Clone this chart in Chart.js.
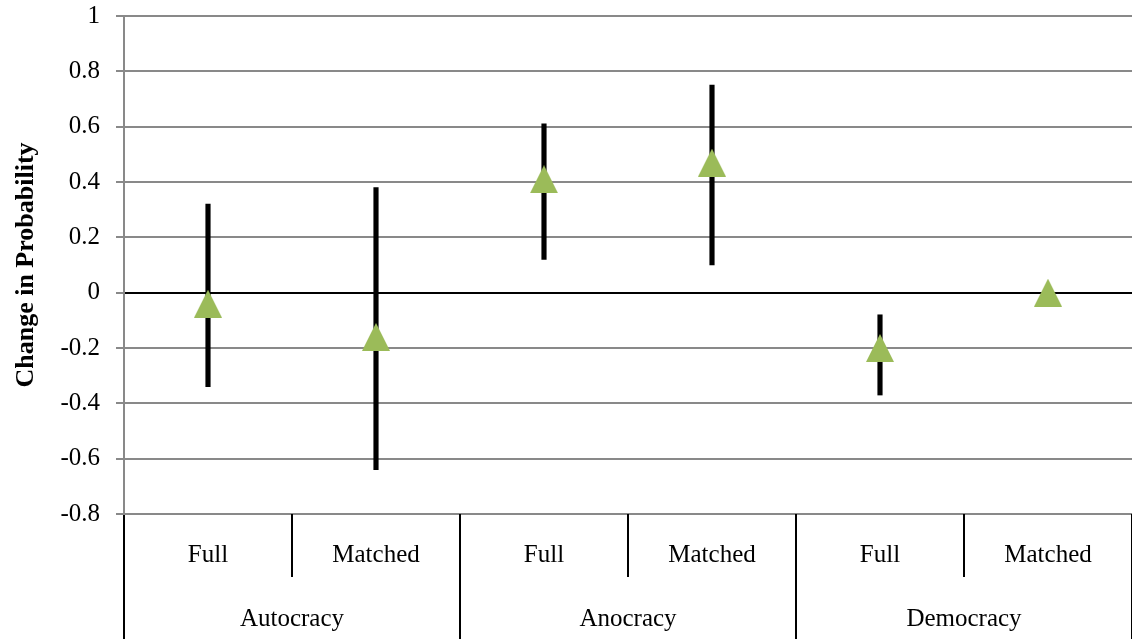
<!DOCTYPE html>
<html>
<head>
<meta charset="utf-8">
<script src="https://cdn.jsdelivr.net/npm/chart.js@4"></script>
<style>
  html, body { margin: 0; background: #fff; overflow: hidden; }
  #wrap { width: 1132px; height: 639px; }
</style>
</head>
<body>
<div id="wrap"><canvas id="probChart"></canvas></div>
<script>
const sampleLabels = ["Full", "Matched", "Full", "Matched", "Full", "Matched"];
const regimeLabels = ["Autocracy", "Anocracy", "Democracy"];
const estimates = [-0.04, -0.16, 0.41, 0.47, -0.20, 0.00];
const lowerBounds = [-0.34, -0.64, 0.12, 0.10, -0.37, null];
const upperBounds = [0.32, 0.38, 0.61, 0.75, -0.08, null];
const yTicks = { min: -0.8, max: 1, step: 0.2 };

// green triangle marker, like the excel one (square box, not equilateral)
const marker = document.createElement("canvas");
marker.width = 28;
marker.height = 28;
const mctx = marker.getContext("2d");
mctx.fillStyle = "#9BBB59";
mctx.beginPath();
mctx.moveTo(0, 28);
mctx.lineTo(14, 0);
mctx.lineTo(28, 28);
mctx.closePath();
mctx.fill();

const intervals = lowerBounds.map((lo, i) => lo === null ? null : [lo, upperBounds[i]]);

const serif = "'Liberation Serif', 'Times New Roman', serif";
const gray = "#898989";

// axes keep no extra room for half labels
function noPadding(s) {
    s.paddingTop = 0;
    s.paddingBottom = 0;
    s.paddingLeft = 0;
    s.paddingRight = 0;
}

new Chart(document.getElementById("probChart"), {
    type: "bar",
    data: {
        labels: sampleLabels,
        datasets: [
            {
                type: "line",
                data: estimates,
                showLine: false,
                pointStyle: marker,
                pointRadius: 14,
                order: 0
            },
            {
                type: "bar",
                data: intervals,
                backgroundColor: "#000",
                borderWidth: 0,
                barThickness: 4.5,
                order: 1
            }
        ]
    },
    options: {
        responsive: true,
        maintainAspectRatio: false,
        animation: false,
        layout: {
            autoPadding: false, // big markers would otherwise shrink the plot
            padding: { top: 16, right: 0, bottom: 0, left: 0 }
        },
        plugins: {
            legend: { display: false },
            tooltip: { enabled: false }
        },
        scales: {
            y: {
                min: yTicks.min,
                max: yTicks.max,
                afterFit: s => { s.width = 124; noPadding(s); },
                ticks: {
                    stepSize: yTicks.step,
                    padding: 16,
                    color: "#000",
                    font: { family: serif, size: 25 },
                    callback: v => String(Math.round(v * 10) / 10)
                },
                grid: {
                    color: c => c.tick && c.tick.value === 0 ? "#000" : gray,
                    tickColor: gray,
                    lineWidth: 2,
                    tickLength: 8
                },
                border: { color: gray, width: 2 },
                title: {
                    display: true,
                    text: "Change in Probability",
                    color: "#000",
                    padding: { top: 11, bottom: 0 },
                    font: { family: serif, size: 26, weight: "bold" }
                }
            },
            x: {
                offset: true,
                weight: 0,
                afterFit: s => { s.height = 63; noPadding(s); },
                ticks: {
                    padding: -37,
                    maxRotation: 0,
                    autoSkip: false,
                    color: "#000",
                    font: { family: serif, size: 25 }
                },
                grid: {
                    offset: true,
                    drawOnChartArea: false,
                    color: "#000",
                    lineWidth: 2,
                    tickLength: 63
                },
                border: { display: false }
            },
            x2: {
                type: "category",
                labels: regimeLabels,
                position: "bottom",
                offset: true,
                weight: 1,
                afterFit: s => { s.height = 62; noPadding(s); },
                ticks: {
                    padding: -35,
                    maxRotation: 0,
                    autoSkip: false,
                    color: "#000",
                    font: { family: serif, size: 25 }
                },
                grid: {
                    offset: true,
                    drawOnChartArea: false,
                    color: "#000",
                    lineWidth: 2,
                    tickLength: 62
                },
                border: { display: false }
            }
        }
    }
});
</script>
</body>
</html>
